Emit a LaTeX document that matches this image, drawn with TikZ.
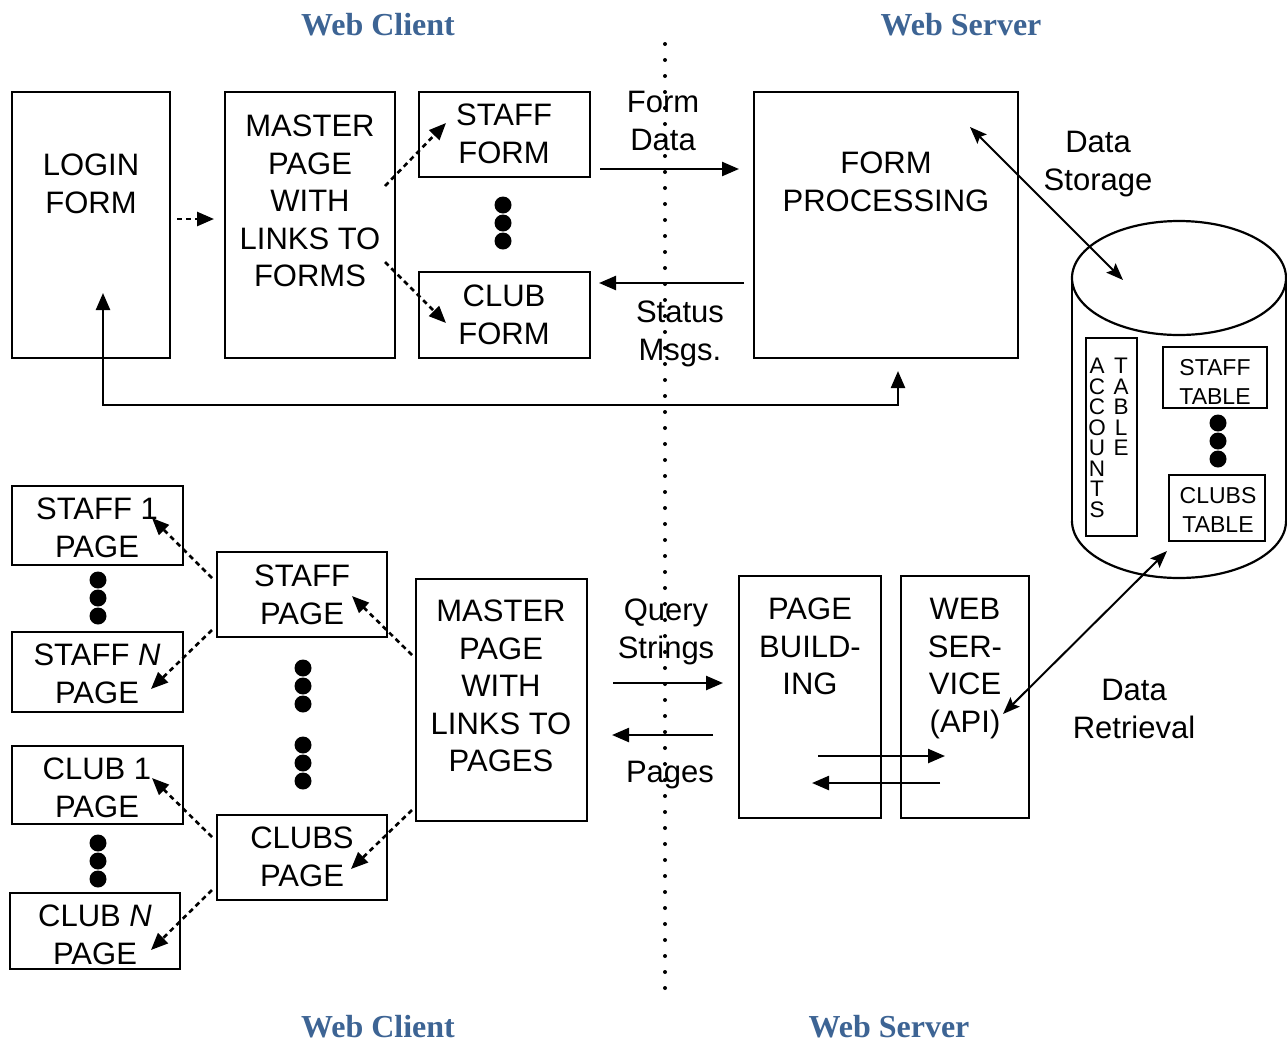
\documentclass[tikz,border=0pt]{standalone}
\usepackage{fontspec}
\setmainfont{Liberation Sans}
\newfontfamily\hdrfont{Liberation Serif}
\usetikzlibrary{arrows.meta}
\definecolor{hdrblue}{RGB}{61,100,148}
\begin{document}
\begin{tikzpicture}[x=1pt,y=-1pt,
  box/.style={draw,line width=2.2pt,inner sep=0pt},
  txt/.style={align=center,inner sep=0pt,anchor=north,font=\fontsize{31}{37.5}\selectfont},
  smalltxt/.style={align=center,inner sep=0pt,anchor=north,font=\fontsize{23}{29}\selectfont},
  vtxt/.style={align=center,inner sep=0pt,anchor=north,font=\fontsize{22.5}{20.5}\selectfont},
  hdr/.style={inner sep=0pt,anchor=base,text=hdrblue,font=\hdrfont\bfseries\fontsize{32}{36}\selectfont},
  dotb/.style={circle,fill,inner sep=0pt,minimum size=17pt},
  arr/.style={line width=2.4pt,-{Triangle[length=17pt,width=14pt]}},
  darr/.style={line width=2.6pt,dash pattern=on 5pt off 4pt,-{Triangle[length=17pt,width=14pt]}},
  thinarr/.style={line width=2pt,{Stealth[length=17pt,width=13pt,inset=3pt]}-{Stealth[length=17pt,width=13pt,inset=3pt]}},
  dotline/.style={line width=4pt,line cap=round,dash pattern=on 0pt off 16pt}
]
\useasboundingbox (0,0) rectangle (1287,1042);
\fill[white] (0,0) rectangle (1287,1042);

% headers
\node[hdr] (h1) at (378,35) {Web Client};
\node[hdr] (h2) at (961,35) {Web Server};
\node[hdr] (h3) at (378,1037) {Web Client};
\node[hdr] (h4) at (889,1037) {Web Server};

% dotted divider
\coordinate (v1) at (665,44);
\coordinate (v2) at (665,990);
\draw[dotline] (v1) -- (v2);

% ===== top half =====
\node[box,minimum width=158pt,minimum height=266pt] (login) at (91,225) {};
\node[txt] (logint) at (91,154) {LOGIN\\FORM};
\node[box,minimum width=170pt,minimum height=266pt] (master1) at (310,225) {};
\node[txt] (master1t) at (310,115) {MASTER\\PAGE\\WITH\\LINKS TO\\FORMS};
\node[box,minimum width=171pt,minimum height=85pt] (staffform) at (504.5,134.5) {};
\node[txt] (staffformt) at (504,104) {STAFF\\FORM};
\node[box,minimum width=171pt,minimum height=86pt] (clubform) at (504.5,315) {};
\node[txt] (clubformt) at (504,285) {CLUB\\FORM};
\node[dotb] (fd1) at (503,205) {};
\node[dotb] (fd2) at (503,223) {};
\node[dotb] (fd3) at (503,241) {};
\node[box,minimum width=264pt,minimum height=266pt] (formproc) at (886,225) {};
\node[txt] (formproct) at (886,152) {FORM\\PROCESSING};

\node[txt] (formdata) at (663,91) {Form\\Data};
\node[txt] (status) at (680,301) {Status\\Msgs.};
\node[txt] (datastor) at (1098,131) {Data\\Storage};

\coordinate (la) at (177,219);
\coordinate (lb) at (214,219);
\draw[darr] (la) -- (lb);
\coordinate (ma) at (385,186);
\coordinate (mb) at (446,123);
\draw[darr] (ma) -- (mb);
\coordinate (mc) at (385,262);
\coordinate (md) at (446,323);
\draw[darr] (mc) -- (md);

\coordinate (fa) at (600,169);
\coordinate (fb) at (739,169);
\draw[arr] (fa) -- (fb);
\coordinate (sa) at (744,283);
\coordinate (sb) at (599,283);
\draw[arr] (sa) -- (sb);

\coordinate (r1) at (898,371);
\coordinate (r2) at (898,405);
\coordinate (r3) at (103,405);
\coordinate (r4) at (103,293);
\draw[line width=2.4pt,{Triangle[length=17pt,width=14pt]}-{Triangle[length=17pt,width=14pt]}] (r1) -- (r2) -- (r3) -- (r4);

% cylinder
\coordinate (cylc) at (1179,278);
\draw[line width=2.2pt] (cylc) ellipse [x radius=107, y radius=57];
\coordinate (cl1) at (1072,278);
\coordinate (cl2) at (1072,521);
\coordinate (cr1) at (1286,278);
\coordinate (cr2) at (1286,521);
\draw[line width=2.2pt] (cl1) -- (cl2);
\draw[line width=2.2pt] (cr1) -- (cr2);
\draw[line width=2.2pt] (cl2) arc[start angle=180,end angle=0,x radius=107,y radius=57];

\node[box,minimum width=51pt,minimum height=198pt] (acct) at (1111.5,437) {};
\node[vtxt] (acctt) at (1097,358) {A\\C\\C\\O\\U\\N\\T\\S};
\node[vtxt] (accttb) at (1121,358) {T\\A\\B\\L\\E};
\node[box,minimum width=104pt,minimum height=61pt] (stafftab) at (1215,377.5) {};
\node[smalltxt] (stafftabt) at (1215,359) {STAFF\\TABLE};
\node[dotb] (td1) at (1218,423) {};
\node[dotb] (td2) at (1218,441) {};
\node[dotb] (td3) at (1218,459) {};
\node[box,minimum width=96pt,minimum height=66pt] (clubstab) at (1217,508) {};
\node[smalltxt] (clubstabt) at (1218,487) {CLUBS\\TABLE};

\coordinate (ds1) at (970,127);
\coordinate (ds2) at (1123,280);
\draw[thinarr] (ds1) -- (ds2);

% ===== bottom half =====
\node[box,minimum width=171pt,minimum height=79pt] (s1) at (97.5,525.5) {};
\node[txt] (s1t) at (97,498) {STAFF 1\\PAGE};
\node[dotb] (sd1) at (98,580) {};
\node[dotb] (sd2) at (98,598) {};
\node[dotb] (sd3) at (98,616) {};
\node[box,minimum width=171pt,minimum height=80pt] (sn) at (97.5,672) {};
\node[txt] (snt) at (97,644) {STAFF \textit{N}\\PAGE};
\node[box,minimum width=171pt,minimum height=78pt] (c1) at (97.5,785) {};
\node[txt] (c1t) at (97,758) {CLUB 1\\PAGE};
\node[dotb] (cd1) at (98,843) {};
\node[dotb] (cd2) at (98,861) {};
\node[dotb] (cd3) at (98,879) {};
\node[box,minimum width=170pt,minimum height=76pt] (cn) at (95,931) {};
\node[txt] (cnt) at (95,905) {CLUB \textit{N}\\PAGE};

\node[box,minimum width=170pt,minimum height=85pt] (sp) at (302,594.5) {};
\node[txt] (spt) at (302,565) {STAFF\\PAGE};
\node[dotb] (pd1) at (303,668) {};
\node[dotb] (pd2) at (303,686) {};
\node[dotb] (pd3) at (303,704) {};
\node[dotb] (pd4) at (303,745) {};
\node[dotb] (pd5) at (303,763) {};
\node[dotb] (pd6) at (303,781) {};
\node[box,minimum width=170pt,minimum height=85pt] (cp) at (302,857.5) {};
\node[txt] (cpt) at (302,827) {CLUBS\\PAGE};

\node[box,minimum width=171pt,minimum height=242pt] (master2) at (501.5,700) {};
\node[txt] (master2t) at (501,600) {MASTER\\PAGE\\WITH\\LINKS TO\\PAGES};

\node[txt] (query) at (666,599) {Query\\Strings};
\node[txt] (pages) at (670,761) {Pages};

\node[box,minimum width=142pt,minimum height=242pt] (pb) at (810,697) {};
\node[txt] (pbt) at (810,598) {PAGE\\BUILD-\\ING};
\node[box,minimum width=128pt,minimum height=242pt] (ws) at (965,697) {};
\node[txt] (wst) at (965,598) {WEB\\SER-\\VICE\\(API)};

\node[txt] (dataret) at (1134,679) {Data\\Retrieval};

\coordinate (qa) at (613,683);
\coordinate (qb) at (723,683);
\draw[arr] (qa) -- (qb);
\coordinate (pa) at (713,735);
\coordinate (pb2) at (612,735);
\draw[arr] (pa) -- (pb2);
\coordinate (wa) at (818,756);
\coordinate (wb) at (945,756);
\draw[arr] (wa) -- (wb);
\coordinate (wc) at (940,783);
\coordinate (wd) at (812,783);
\draw[arr] (wc) -- (wd);

\coordinate (dr1) at (1167,551);
\coordinate (dr2) at (1003,714);
\draw[thinarr] (dr1) -- (dr2);

% dashed links bottom
\coordinate (b1a) at (212,578);
\coordinate (b1b) at (152,518);
\draw[darr] (b1a) -- (b1b);
\coordinate (b2a) at (212,630);
\coordinate (b2b) at (151,689);
\draw[darr] (b2a) -- (b2b);
\coordinate (b3a) at (412,655);
\coordinate (b3b) at (352,596);
\draw[darr] (b3a) -- (b3b);
\coordinate (b4a) at (412,810);
\coordinate (b4b) at (351,869);
\draw[darr] (b4a) -- (b4b);
\coordinate (b5a) at (212,837);
\coordinate (b5b) at (152,778);
\draw[darr] (b5a) -- (b5b);
\coordinate (b6a) at (212,890);
\coordinate (b6b) at (151,950);
\draw[darr] (b6a) -- (b6b);
\end{tikzpicture}
\end{document}
